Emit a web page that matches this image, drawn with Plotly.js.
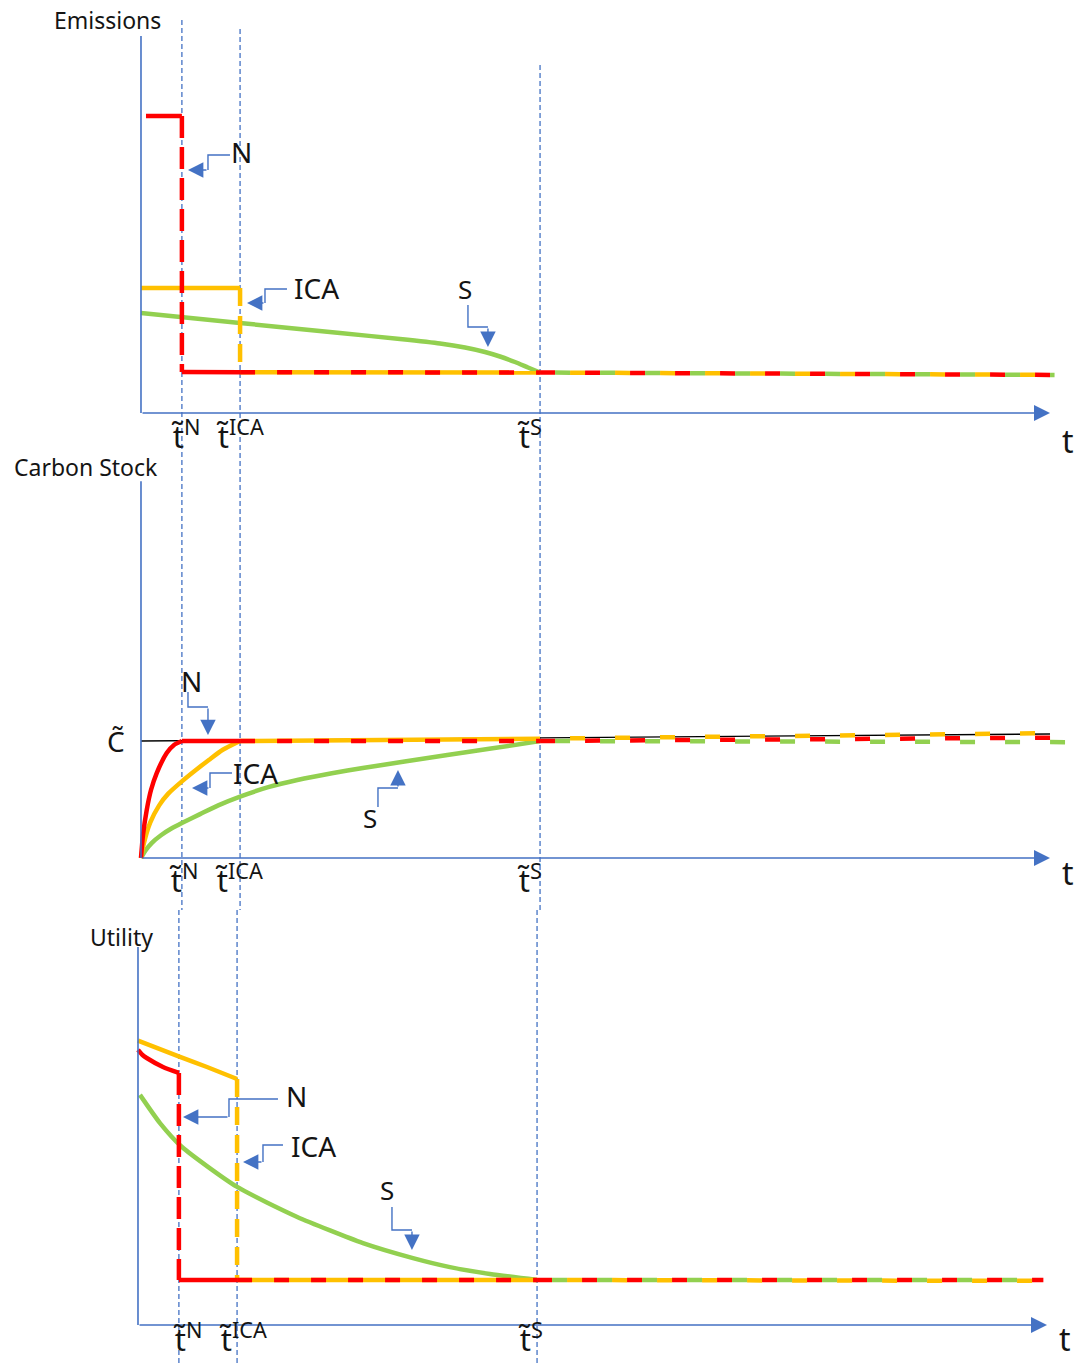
<!DOCTYPE html>
<html><head><meta charset="utf-8">
<script src="https://cdn.plot.ly/plotly-3.0.1.min.js"></script>
<style>html,body{margin:0;padding:0;background:#fff}</style>
</head><body><div id="chart" style="width:1079px;height:1363px"></div>
<script>
// ---------- time markers (t units) ----------
const tN = 4.5, tICA = 10.9, tS = 43.9;
const markerTimes = [tN, tICA, tS];
const markerLabels = ['t\u0303<sup>N</sup>', 't\u0303<sup>ICA</sup>', 't\u0303<sup>S</sup>'];
const seriesNames = ['N', 'ICA', 'S'];
const panelTitles = ['Emissions', 'Carbon Stock', 'Utility'];
const levelLabel = 'C\u0303';
const timeLabel = 't';

// ---------- Emissions panel ----------
const emisT_N   = [0.55, 4.5, 4.5, 10.9, 43.9, 100.5];
const emisN     = [9.9, 9.9, 1.37, 1.36, 1.35, 1.27];
const emisT_ICA = [0, 10.9, 10.9, 43.9, 100.5];
const emisICA   = [4.17, 4.17, 1.36, 1.35, 1.27];
const emisT_S   = [0, 10.89, 21.89, 28.49, 32.89, 35.64, 37.84, 39.49, 41.14, 42.57, 43.9, 100.5];
const emisS     = [3.333, 3.0, 2.667, 2.467, 2.317, 2.183, 2.033, 1.883, 1.7, 1.517, 1.35, 1.27];

// ---------- Carbon stock panel ----------
const carbT_N   = [0, 0.22, 0.63, 1.10, 1.73, 2.83, 3.63, 4.5, 10.9, 43.9, 103.2];
const carbN     = [0, 0.197, 0.41, 0.581, 0.726, 0.897, 0.966, 1.0, 1.0, 1.0, 1.03];
const carbT_ICA = [0, 0.3, 1.0, 2.0, 3.0, 4.5, 6.0, 7.5, 9.0, 10.9, 43.9, 100.66];
const carbICA   = [0, 0.12, 0.30, 0.45, 0.55, 0.655, 0.75, 0.84, 0.925, 1.0, 1.02, 1.068];
const carbT_S   = [0, 0.5, 1.2, 2.2, 3.3, 4.5, 6.5, 8.5, 10.9, 14, 17.2, 21, 24.4, 29, 33.7, 38.5, 43.9, 103.2];
const carbS     = [0, 0.065, 0.13, 0.195, 0.25, 0.299, 0.375, 0.45, 0.525, 0.605, 0.667, 0.725, 0.769, 0.825, 0.88, 0.935, 1.0, 0.99];
const levelT    = [0, 100];
const levelC    = [1.0, 1.06];

// ---------- Utility panel ----------
const utilT_N   = [0, 0.5, 0.96, 2.75, 4.5, 4.5, 10.9, 43.9, 99.6];
const utilN     = [9.17, 9.0, 8.9, 8.6, 8.4, 1.5, 1.5, 1.5, 1.5];
const utilT_ICA = [0, 4.62, 7.59, 10.9, 10.9, 43.9, 99.6];
const utilICA   = [9.48, 8.94, 8.6, 8.2, 1.5, 1.5, 1.47];
const utilT_S   = [0.22, 2.42, 4.81, 10.86, 17.46, 24.75, 30.25, 34.32, 38.72, 43.9, 99.6];
const utilS     = [7.67, 6.73, 5.94, 4.61, 3.61, 2.73, 2.23, 1.93, 1.7, 1.5, 1.5];

// ---------- styles ----------
const RED = '#FF0000', ORANGE = '#FFC000', GREEN = '#92D050', BLUE = '#4472C4', INK = '#141414';
const W = 4.5;
const DROP_R = '22px,9px', DROP_O = '18px,10px', FLOOR_R = '15px,22px';
const CYC_R = '15px,30px', CYC_G = '0px,15px,15px,15px', CYC_O = '0px,30px,15px,0px';
const FONT = 'Noto Sans, Open Sans, sans-serif';

function seg(t, v, i0, i1, color, dash, xa, ya, shape) {
  return {type: 'scatter', mode: 'lines', x: t.slice(i0, i1 + 1), y: v.slice(i0, i1 + 1),
    xaxis: xa, yaxis: ya, hoverinfo: 'skip', showlegend: false,
    line: {color: color, width: W, dash: dash || 'solid', shape: shape || 'linear', smoothing: 0.6}};
}

const traces = [];
// Emissions (x, y)
traces.push(seg(emisT_S, emisS, 0, 10, GREEN, 'solid', 'x', 'y', 'spline'));
traces.push(seg(emisT_ICA, emisICA, 0, 1, ORANGE, 'solid', 'x', 'y'));
traces.push(seg(emisT_ICA, emisICA, 1, 2, ORANGE, DROP_O, 'x', 'y'));
traces.push(seg(emisT_ICA, emisICA, 2, 3, ORANGE, 'solid', 'x', 'y'));
traces.push(seg(emisT_N, emisN, 0, 1, RED, 'solid', 'x', 'y'));
traces.push(seg(emisT_N, emisN, 1, 2, RED, DROP_R, 'x', 'y'));
traces.push(seg(emisT_N, emisN, 2, 3, RED, 'solid', 'x', 'y'));
traces.push(seg(emisT_N, emisN, 3, 4, RED, FLOOR_R, 'x', 'y'));
traces.push(seg(emisT_ICA, emisICA, 3, 4, ORANGE, CYC_O, 'x', 'y'));
traces.push(seg(emisT_N, emisN, 4, 5, RED, CYC_R, 'x', 'y'));
traces.push(seg(emisT_S, emisS, 10, 11, GREEN, CYC_G, 'x', 'y'));

// Carbon stock (x, y2)
traces.push({type: 'scatter', mode: 'lines', x: levelT, y: levelC, xaxis: 'x', yaxis: 'y2',
  hoverinfo: 'skip', showlegend: false, line: {color: '#000', width: 1.3}});
traces.push(seg(carbT_S, carbS, 0, 16, GREEN, 'solid', 'x', 'y2', 'spline'));
traces.push(seg(carbT_ICA, carbICA, 0, 9, ORANGE, 'solid', 'x', 'y2', 'spline'));
traces.push(seg(carbT_ICA, carbICA, 9, 10, ORANGE, 'solid', 'x', 'y2'));
traces.push(seg(carbT_N, carbN, 0, 7, RED, 'solid', 'x', 'y2', 'spline'));
traces.push(seg(carbT_N, carbN, 7, 8, RED, 'solid', 'x', 'y2'));
traces.push(seg(carbT_N, carbN, 8, 9, RED, FLOOR_R, 'x', 'y2'));
traces.push(seg(carbT_S, carbS, 16, 17, GREEN, CYC_G, 'x', 'y2'));
traces.push(seg(carbT_N, carbN, 9, 10, RED, CYC_R, 'x', 'y2'));
traces.push(seg(carbT_ICA, carbICA, 10, 11, ORANGE, CYC_O, 'x', 'y2'));

// Utility (x2, y3)
traces.push(seg(utilT_S, utilS, 0, 9, GREEN, 'solid', 'x2', 'y3', 'spline'));
traces.push(seg(utilT_ICA, utilICA, 0, 3, ORANGE, 'solid', 'x2', 'y3', 'spline'));
traces.push(seg(utilT_ICA, utilICA, 3, 4, ORANGE, DROP_O, 'x2', 'y3'));
traces.push(seg(utilT_ICA, utilICA, 4, 5, ORANGE, 'solid', 'x2', 'y3'));
traces.push(seg(utilT_N, utilN, 0, 4, RED, 'solid', 'x2', 'y3', 'spline'));
traces.push(seg(utilT_N, utilN, 4, 5, RED, DROP_R, 'x2', 'y3'));
traces.push(seg(utilT_N, utilN, 5, 6, RED, 'solid', 'x2', 'y3'));
traces.push(seg(utilT_N, utilN, 6, 7, RED, FLOOR_R, 'x2', 'y3'));
traces.push(seg(utilT_ICA, utilICA, 5, 6, ORANGE, CYC_O, 'x2', 'y3'));
traces.push(seg(utilT_N, utilN, 7, 8, RED, CYC_R, 'x2', 'y3'));
traces.push(seg(utilT_S, utilS, 9, 10, GREEN, CYC_G, 'x2', 'y3'));

// ---------- decorations ----------
const shapes = [];
const annotations = [];
const panelSplit = 0.33235;           // paper y between middle and bottom panels
const markerTops = [0.9853, 0.9787, 0.9523];
markerTimes.forEach((t, i) => {
  shapes.push({type: 'line', layer: 'below', xref: 'x', yref: 'paper', x0: t, x1: t, y0: markerTops[i], y1: panelSplit,
    line: {color: BLUE, width: 1.3, dash: '5px,3px'}});
  shapes.push({type: 'line', layer: 'below', xref: 'x2', yref: 'paper', x0: t, x1: t, y0: panelSplit, y1: 0,
    line: {color: BLUE, width: 1.3, dash: '5px,3px'}});
});

// axes: [xref, yref, vertical top, horizontal end]
const axesDef = [['x', 'y', 12.57, 100], ['x', 'y2', 3.22, 100], ['x2', 'y3', 12.6, 100]];
axesDef.forEach(a => {
  shapes.push({type: 'line', xref: a[0], yref: a[1], x0: 0, x1: 0, y0: 0, y1: a[2], line: {color: BLUE, width: 1.6}});
  annotations.push({xref: a[0], yref: a[1], axref: a[0], ayref: a[1], x: a[3], y: 0, ax: 0, ay: 0, text: '',
    showarrow: true, arrowhead: 2, arrowsize: 2.0, arrowwidth: 1.6, arrowcolor: BLUE, standoff: 0, startstandoff: 0});
});

// elbow pointers [xref, yref, points]
const elbows = [
  ['x', 'y', [[9.79, 8.6], [7.37, 8.6], [7.37, 8.1], [5.17, 8.1]]],
  ['x', 'y', [[16.06, 4.133], [13.64, 4.133], [13.64, 3.667], [11.66, 3.667]]],
  ['x', 'y', [[35.97, 3.6], [35.97, 2.867], [38.17, 2.867], [38.17, 2.2]]],
  ['x', 'y2', [[5.17, 1.419], [5.17, 1.291], [7.37, 1.291], [7.37, 1.051]]],
  ['x', 'y2', [[10.01, 0.726], [7.59, 0.726], [7.59, 0.598], [5.61, 0.598]]],
  ['x', 'y2', [[26.07, 0.436], [26.07, 0.598], [28.27, 0.598], [28.27, 0.752]]],
  ['x2', 'y3', [[15.4, 7.533], [10.01, 7.533], [10.01, 6.933], [4.95, 6.933]]],
  ['x2', 'y3', [[15.95, 6.0], [13.75, 6.0], [13.75, 5.433], [11.55, 5.433]]],
  ['x2', 'y3', [[27.94, 3.933], [27.94, 3.167], [30.14, 3.167], [30.14, 2.5]]]
];
elbows.forEach(e => {
  const p = e[2];
  shapes.push({type: 'path', xref: e[0], yref: e[1], line: {color: BLUE, width: 1.4},
    path: 'M' + p.slice(0, 3).map(q => q[0] + ',' + q[1]).join('L')});
  annotations.push({xref: e[0], yref: e[1], axref: e[0], ayref: e[1], x: p[3][0], y: p[3][1], ax: p[2][0], ay: p[2][1],
    text: '', showarrow: true, arrowhead: 2, arrowsize: 2.2, arrowwidth: 1.4, arrowcolor: BLUE, standoff: 0, startstandoff: 0});
});

function label(xr, yr, x, y, text, size, xanchor, yanchor) {
  annotations.push({xref: xr, yref: yr, x: x, y: y, text: text, showarrow: false,
    xanchor: xanchor || 'center', yanchor: yanchor || 'middle', font: {family: FONT, size: size, color: INK}});
}
// panel titles
label('x', 'y', -3.63, 13.1, panelTitles[0], 23);
label('x', 'y2', -6.05, 3.342, panelTitles[1], 23);
label('x2', 'y3', -1.76, 12.93, panelTitles[2], 23);
// series labels
label('x', 'y', 11.11, 8.7, seriesNames[0], 28);
label('x', 'y', 19.36, 4.167, seriesNames[1], 28);
label('x', 'y', 35.64, 4.133, seriesNames[2], 26);
label('x', 'y2', 5.61, 1.513, seriesNames[0], 28);
label('x', 'y2', 12.65, 0.726, seriesNames[1], 28);
label('x', 'y2', 25.19, 0.342, seriesNames[2], 26);
label('x2', 'y3', 17.49, 7.633, seriesNames[0], 28);
label('x2', 'y3', 19.36, 5.967, seriesNames[1], 28);
label('x2', 'y3', 27.39, 4.5, seriesNames[2], 26);
// level label
label('x', 'y2', -2.75, 1.0, levelLabel, 28);
// time axis labels
label('x', 'y', 101.98, -0.933, timeLabel, 32);
label('x', 'y2', 101.98, -0.12, timeLabel, 32);
label('x2', 'y3', 101.98, -1.25, timeLabel, 32, 'center', 'bottom');
// marker tick labels (left edges)
const tickLeftTop = [3.08, 8.03, 41.14], tickLeftMid = [2.86, 7.92, 41.14], tickLeftBot = [3.63, 8.69, 41.58];
markerLabels.forEach((s, i) => {
  label('x', 'y', tickLeftTop[i], -0.7, s, 31, 'left');
  label('x', 'y2', tickLeftMid[i], -0.171, s, 31, 'left');
  label('x2', 'y3', tickLeftBot[i], -1.25, s, 31, 'left', 'bottom');
});

const hidden = {visible: false, fixedrange: true, showgrid: false, zeroline: false};
const layout = {
  width: 1079, height: 1363, autosize: false, margin: {l: 0, r: 0, t: 0, b: 0, pad: 0},
  paper_bgcolor: '#fff', plot_bgcolor: '#fff', showlegend: false,
  xaxis: Object.assign({range: [-15.51, 103.19]}, hidden),
  xaxis2: Object.assign({range: [-15.18, 103.52], overlaying: 'x'}, hidden),
  yaxis: Object.assign({range: [-31.667, 13.767]}, hidden),
  yaxis2: Object.assign({range: [-4.316, 7.333], overlaying: 'y'}, hidden),
  yaxis3: Object.assign({range: [-1.267, 44.167], overlaying: 'y'}, hidden),
  shapes: shapes, annotations: annotations
};
Plotly.newPlot('chart', traces, layout, {staticPlot: true, displayModeBar: false});
</script></body></html>
